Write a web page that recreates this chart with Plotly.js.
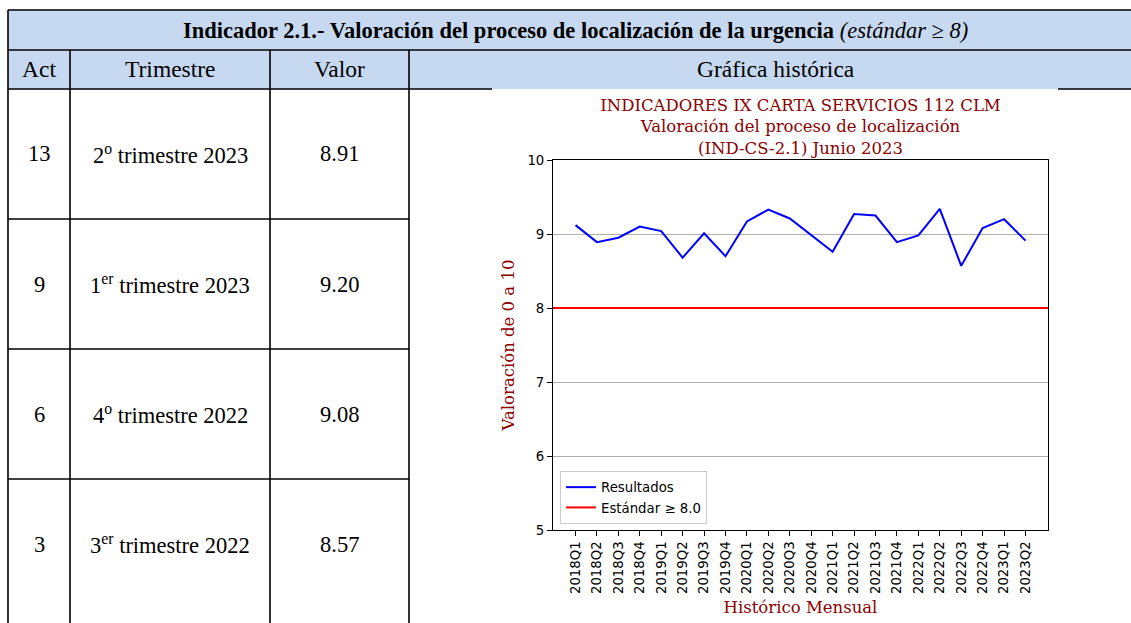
<!DOCTYPE html>
<html>
<head>
<meta charset="utf-8">
<script src="https://cdn.plot.ly/plotly-3.0.1.min.js"></script>
<style>
html,body{margin:0;padding:0;background:#fff;}
#chart{width:1131px;height:623px;}
</style>
</head>
<body>
<div id="chart"></div>
<script>
// ---- data ----
const quarters = ['2018Q1','2018Q2','2018Q3','2018Q4','2019Q1','2019Q2','2019Q3','2019Q4',
  '2020Q1','2020Q2','2020Q3','2020Q4','2021Q1','2021Q2','2021Q3','2021Q4',
  '2022Q1','2022Q2','2022Q3','2022Q4','2023Q1','2023Q2'];
const resultados = [9.12, 8.89, 8.95, 9.10, 9.04, 8.68, 9.01, 8.70,
  9.17, 9.33, 9.21, 8.98, 8.76, 9.27, 9.25, 8.89,
  8.98, 9.34, 8.57, 9.08, 9.20, 8.91];
const estandar = 8.0;
const yTicks = [5, 6, 7, 8, 9, 10];

const tableTitleBold = 'Indicador 2.1.- Valoración del proceso de localización de la urgencia';
const tableTitleItalic = '(estándar ≥ 8)';
const colHeaders = ['Act', 'Trimestre', 'Valor', 'Gráfica histórica'];
const acts = ['13', '9', '6', '3'];
const trimestres = ['2<sup>o</sup> trimestre 2023', '1<sup>er</sup> trimestre 2023',
  '4<sup>o</sup> trimestre 2022', '3<sup>er</sup> trimestre 2022'];
const valores = ['8.91', '9.20', '9.08', '8.57'];

// ---- geometry helpers (pixel -> paper) ----
const L = 553, R = 1048, T = 160, B = 530;
const fx = px => (px - L) / (R - L);
const fy = py => (B - py) / (B - T);

const tableFont = 'Liberation Serif';
const lineCol = '#000000';
const headFill = '#C6D9F1';
const tableLeft = 8, tableRight = 1142;
const colX = [8, 70, 270, 409, 1142];
const rowY = [10, 50, 89, 219, 349, 479, 609];
const figBox = [492, 1058];

const shapes = [];
const annotations = [];

// header fill
shapes.push({type:'rect', xref:'paper', yref:'paper', layer:'below',
  x0: fx(tableLeft), x1: fx(tableRight), y0: fy(rowY[0]), y1: fy(rowY[2]),
  fillcolor: headFill, line:{width:0}});
function hline(x0, x1, y){
  shapes.push({type:'line', xref:'paper', yref:'paper', x0: fx(x0), x1: fx(x1), y0: fy(y), y1: fy(y),
    line:{color: lineCol, width: 1.6}});
}
function vline(x, y0, y1){
  shapes.push({type:'line', xref:'paper', yref:'paper', x0: fx(x), x1: fx(x), y0: fy(y0), y1: fy(y1),
    line:{color: lineCol, width: 1.6}});
}
hline(tableLeft, tableRight, rowY[0]);
hline(tableLeft, tableRight, rowY[1]);
hline(tableLeft, figBox[0], rowY[2]);
hline(figBox[1], tableRight, rowY[2]);
for (let i = 3; i < rowY.length - 1; i++) hline(colX[0], colX[3], rowY[i]);
vline(colX[0], rowY[0], 640);
for (let i = 1; i < 4; i++) vline(colX[i], rowY[1], 640);

// standard line (legend item)
shapes.push({type:'line', xref:'paper', yref:'y', x0: 0, x1: 1, y0: estandar, y1: estandar,
  line:{color:'#ff0000', width: 2}, showlegend: true, name: 'Estándar ≥ 8.0', layer:'above'});

// table texts
annotations.push({xref:'paper', yref:'paper', x: fx((tableLeft + tableRight) / 2), y: fy((rowY[0] + rowY[1]) / 2),
  xanchor:'center', yanchor:'middle', showarrow:false,
  text: '<b>' + tableTitleBold + '</b> <i>' + tableTitleItalic + '</i>',
  font:{family: tableFont, size: 22.5, color:'#000'}});
for (let c = 0; c < 4; c++) {
  annotations.push({xref:'paper', yref:'paper', x: fx((colX[c] + colX[c+1]) / 2), y: fy((rowY[1] + rowY[2]) / 2),
    xanchor:'center', yanchor:'middle', showarrow:false, text: colHeaders[c],
    font:{family: tableFont, size: 23.5, color:'#000'}});
}
const cols = [acts, trimestres, valores];
for (let r = 0; r < acts.length; r++) {
  const yc = (rowY[r + 2] + rowY[r + 3]) / 2;
  for (let c = 0; c < 3; c++) {
    annotations.push({xref:'paper', yref:'paper', x: fx((colX[c] + colX[c+1]) / 2), y: fy(yc),
      xanchor:'center', yanchor:'middle', showarrow:false, text: cols[c][r],
      font:{family: tableFont, size: 22.5, color:'#000'}});
  }
}

const darkred = '#8B0000';
const traces = [{
  type:'scatter', mode:'lines', x: quarters, y: resultados, name:'Resultados',
  line:{color:'#0000ff', width: 2}
}];

const layout = {
  width: 1131, height: 623,
  margin:{l: L, r: 1131 - R, t: T, b: 623 - B, pad: 0},
  paper_bgcolor:'#ffffff', plot_bgcolor:'#ffffff',
  showlegend: true,
  title:{text:'INDICADORES IX CARTA SERVICIOS 112 CLM<br>Valoración del proceso de localización<br>(IND-CS-2.1) Junio 2023',
    font:{family:'DejaVu Serif', size:16.5, color: darkred},
    x: 800.5 / 1131, xanchor:'center', xref:'container', y: 1 - 111 / 623, yanchor:'top', yref:'container'},
  xaxis:{type:'category', range:[-1.05, quarters.length - 1 + 1.05], tickangle:-90,
    ticks:'outside', ticklen:5, tickcolor:'#000', tickwidth:1,
    showgrid:false, showline:true, linecolor:'#000', linewidth:1, mirror:true, zeroline:false,
    tickfont:{family:'DejaVu Sans', size:13.3, color:'#000'},
    title:{text:'Histórico Mensual', font:{family:'DejaVu Serif', size:16.5, color: darkred}, standoff: 8},
    automargin:false},
  yaxis:{range:[5, 10], tickvals: yTicks, ticks:'outside', ticklen:5, tickcolor:'#000', tickwidth:1,
    showgrid:true, gridcolor:'#b0b0b0', gridwidth:1,
    showline:true, linecolor:'#000', linewidth:1, mirror:true, zeroline:false,
    tickfont:{family:'DejaVu Sans', size:13.3, color:'#000'},
    title:{text:'Valoración de 0 a 10', font:{family:'DejaVu Serif', size:16.5, color: darkred}, standoff: 8},
    automargin:false},
  legend:{x: fx(560), y: fy(524), xanchor:'left', yanchor:'bottom', xref:'paper', yref:'paper',
    bgcolor:'rgba(255,255,255,0.8)', bordercolor:'#cccccc', borderwidth:1,
    font:{family:'DejaVu Sans', size:13.3, color:'#000'}, tracegroupgap:0},
  shapes: shapes,
  annotations: annotations,
  hovermode:false
};

Plotly.newPlot('chart', traces, layout, {displayModeBar:false, staticPlot:true});
</script>
</body>
</html>
